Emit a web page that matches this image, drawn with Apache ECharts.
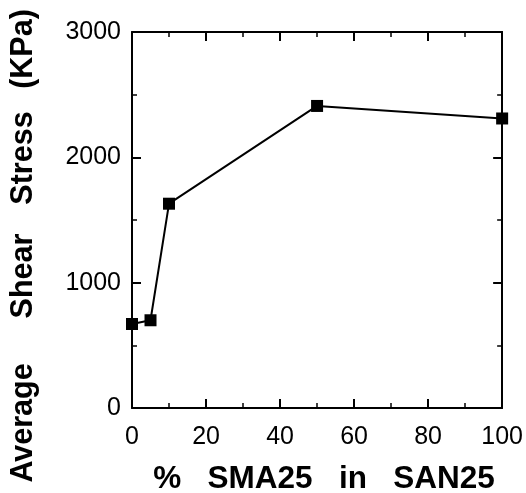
<!DOCTYPE html>
<html>
<head>
<meta charset="utf-8">
<script src="https://cdn.jsdelivr.net/npm/echarts@6/dist/echarts.min.js"></script>
<style>
  html, body { margin: 0; padding: 0; background: #fff; }
  #chart { width: 526px; height: 493px; }
</style>
</head>
<body>
<div id="chart"></div>
<script>
// Shear stress versus SMA25 content in the SAN25 blend
const smaPercent = [0, 5, 10, 50, 100];
const shearStress = [670, 700, 1630, 2410, 2310];
const xTicks = [0, 20, 40, 60, 80, 100];
const yTicks = [0, 1000, 2000, 3000];
const xTitle = '%   SMA25   in   SAN25';
// vertical title, set word by word (bottom to top)
const yTitleWords = ['Average', 'Shear', 'Stress', '(KPa)'];
const yTitleCenters = [423, 276, 158, 49];

const FONT = '"Liberation Sans", Arial, Helvetica, sans-serif';
const points = smaPercent.map((x, i) => [x, shearStress[i]]);

const lineStyle = { color: '#000', width: 2 };
const baseAxis = {
  axisLine: { show: true, onZero: false, lineStyle },
  axisTick: { show: true, inside: true, length: 9, lineStyle: { color: '#000', width: 2 } },
  minorTick: { show: true, splitNumber: 2, length: 5, lineStyle: { color: '#000', width: 1.5 } },
  splitLine: { show: false },
  minorSplitLine: { show: false }
};
const labelStyle = { fontFamily: FONT, fontSize: 25, color: '#000', formatter: v => String(v) };

const titleGraphics = [{
  type: 'text', x: 324, y: 479,
  style: {
    text: xTitle, fill: '#000',
    font: 'bold 31.5px ' + FONT,
    textAlign: 'center', textVerticalAlign: 'middle'
  }
}].concat(yTitleWords.map((w, i) => ({
  type: 'text', x: 24, y: yTitleCenters[i], rotation: Math.PI / 2,
  style: {
    text: w, fill: '#000',
    font: 'bold 30.5px ' + FONT,
    textAlign: 'center', textVerticalAlign: 'middle'
  }
})));

const chart = echarts.init(document.getElementById('chart'), null, { renderer: 'canvas' });
chart.setOption({
  animation: false,
  backgroundColor: '#fff',
  grid: { left: 132, right: 23, top: 32, bottom: 85, containLabel: false },
  xAxis: [
    Object.assign({}, baseAxis, {
      type: 'value', position: 'bottom',
      min: xTicks[0], max: xTicks[xTicks.length - 1], interval: 20,
      axisLabel: Object.assign({ show: true, margin: 17 }, labelStyle)
    }),
    Object.assign({}, baseAxis, {
      type: 'value', position: 'top',
      min: xTicks[0], max: xTicks[xTicks.length - 1], interval: 20,
      axisLabel: { show: false }
    })
  ],
  yAxis: [
    Object.assign({}, baseAxis, {
      type: 'value', position: 'left',
      min: yTicks[0], max: yTicks[yTicks.length - 1], interval: 1000,
      axisLabel: Object.assign({ show: true, margin: 11 }, labelStyle)
    }),
    Object.assign({}, baseAxis, {
      type: 'value', position: 'right',
      min: yTicks[0], max: yTicks[yTicks.length - 1], interval: 1000,
      axisLabel: { show: false }
    })
  ],
  graphic: titleGraphics,
  series: [{
    type: 'line',
    data: points,
    xAxisIndex: 0,
    yAxisIndex: 0,
    symbol: 'rect',
    symbolSize: 12,
    itemStyle: { color: '#000' },
    lineStyle: { color: '#000', width: 2 },
    clip: false
  }]
});
</script>
</body>
</html>
